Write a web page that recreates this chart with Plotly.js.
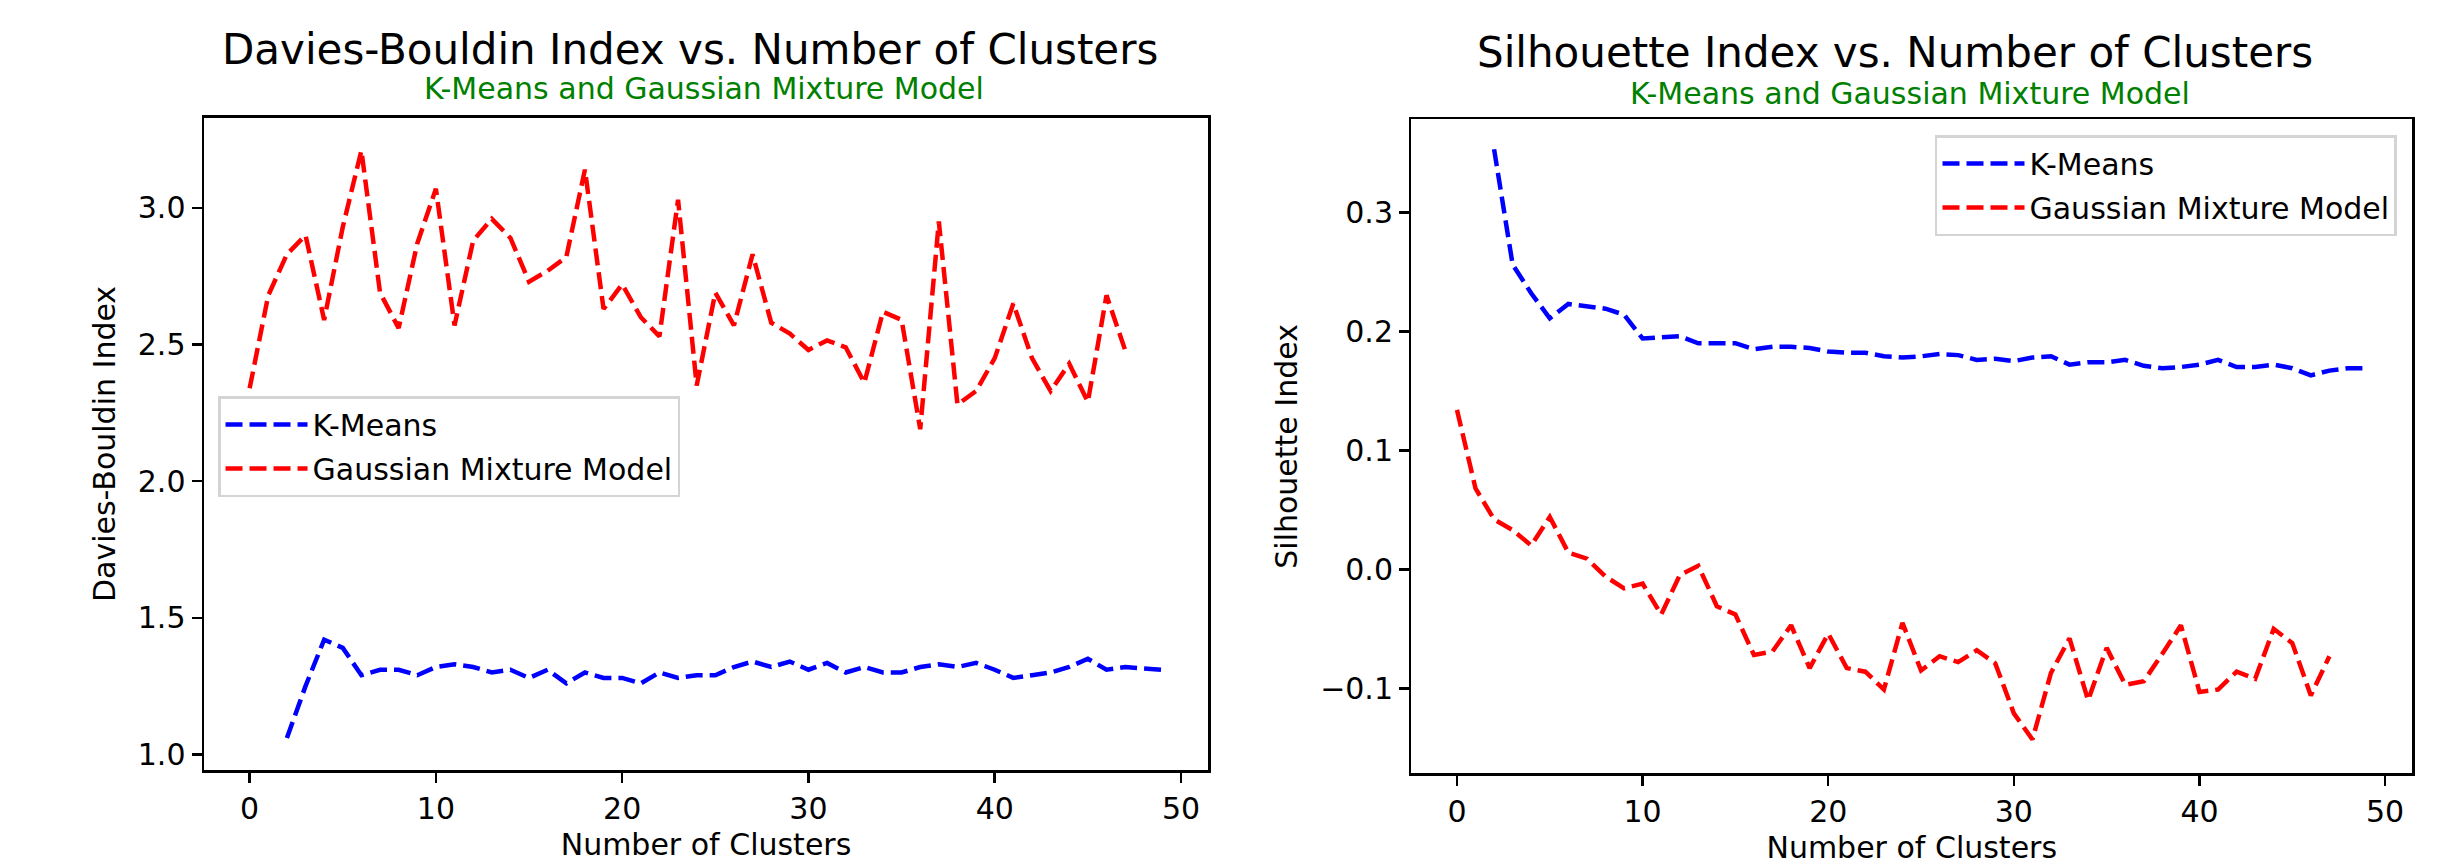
<!DOCTYPE html>
<html>
<head>
<meta charset="utf-8">
<script src="https://cdn.plot.ly/plotly-3.0.1.min.js"></script>
<style>html,body{margin:0;padding:0;background:#fff;}#chart{width:2454px;height:867px;}</style>
</head>
<body>
<div id="chart"></div>
<script>
// ---- Data ----
const gmmClusters = [0,1,2,3,4,5,6,7,8,9,10,11,12,13,14,15,16,17,18,19,20,21,22,23,24,25,26,27,28,29,30,31,32,33,34,35,36,37,38,39,40,41,42,43,44,45,46,47];
const kmClusters = [2,3,4,5,6,7,8,9,10,11,12,13,14,15,16,17,18,19,20,21,22,23,24,25,26,27,28,29,30,31,32,33,34,35,36,37,38,39,40,41,42,43,44,45,46,47,48,49];

const dbKMeans = [1.06,1.25,1.42,1.39,1.29,1.31,1.31,1.29,1.32,1.33,1.32,1.30,1.31,1.28,1.31,1.26,1.30,1.28,1.28,1.26,1.30,1.28,1.29,1.29,1.32,1.34,1.32,1.34,1.31,1.335,1.30,1.32,1.30,1.30,1.32,1.33,1.32,1.335,1.31,1.28,1.29,1.30,1.32,1.35,1.31,1.32,1.315,1.31];
const dbGMM = [2.34,2.68,2.83,2.90,2.59,2.93,3.21,2.69,2.56,2.87,3.07,2.57,2.88,2.96,2.89,2.73,2.77,2.82,3.14,2.63,2.72,2.60,2.53,3.03,2.35,2.69,2.57,2.83,2.58,2.54,2.48,2.515,2.49,2.36,2.62,2.59,2.19,2.95,2.28,2.33,2.45,2.65,2.45,2.33,2.43,2.29,2.68,2.48];

const silKMeans = [0.353,0.256,0.232,0.211,0.223,0.221,0.219,0.214,0.194,0.195,0.196,0.190,0.190,0.190,0.185,0.187,0.187,0.186,0.183,0.182,0.182,0.179,0.178,0.179,0.181,0.180,0.176,0.177,0.175,0.178,0.179,0.172,0.174,0.174,0.176,0.171,0.169,0.170,0.172,0.176,0.170,0.170,0.172,0.169,0.163,0.167,0.169,0.169];
const silGMM = [0.134,0.068,0.042,0.033,0.020,0.044,0.014,0.009,-0.006,-0.016,-0.012,-0.038,-0.005,0.003,-0.031,-0.038,-0.072,-0.069,-0.047,-0.083,-0.054,-0.083,-0.086,-0.101,-0.045,-0.085,-0.073,-0.078,-0.068,-0.079,-0.121,-0.143,-0.087,-0.058,-0.110,-0.066,-0.097,-0.094,-0.071,-0.047,-0.103,-0.101,-0.086,-0.092,-0.050,-0.062,-0.106,-0.073];

const seriesNames = ['K-Means', 'Gaussian Mixture Model'];
const titles = ['Davies-Bouldin Index vs. Number of Clusters', 'Silhouette Index vs. Number of Clusters'];
const subtitle = 'K-Means and Gaussian Mixture Model';
const xLabel = 'Number of Clusters';
const yLabels = ['Davies-Bouldin Index', 'Silhouette Index'];

// ---- Styles ----
const FONT = 'DejaVu Sans, Liberation Sans, sans-serif';
const dash = '17px,7px';
const lw = 4.5;
const blue = '#0000ff';
const red = '#ff0000';

const traces = [
  {x: kmClusters, y: dbKMeans, name: seriesNames[0], type: 'scatter', mode: 'lines',
   line: {color: blue, width: lw, dash: dash}, xaxis: 'x', yaxis: 'y', legend: 'legend', legendgroup: 'a'},
  {x: gmmClusters, y: dbGMM, name: seriesNames[1], type: 'scatter', mode: 'lines',
   line: {color: red, width: lw, dash: dash}, xaxis: 'x', yaxis: 'y', legend: 'legend', legendgroup: 'b'},
  {x: kmClusters, y: silKMeans, name: seriesNames[0], type: 'scatter', mode: 'lines',
   line: {color: blue, width: lw, dash: dash}, xaxis: 'x2', yaxis: 'y2', legend: 'legend2', legendgroup: 'c'},
  {x: gmmClusters, y: silGMM, name: seriesNames[1], type: 'scatter', mode: 'lines',
   line: {color: red, width: lw, dash: dash}, xaxis: 'x2', yaxis: 'y2', legend: 'legend2', legendgroup: 'd'}
];

function xAxis(domain, anchor) {
  return {
    domain: domain, anchor: anchor, range: [-2.45, 51.45], tick0: 0, dtick: 10,
    showline: true, mirror: true, linecolor: '#000', linewidth: 2.5,
    ticks: 'outside', ticklen: 10, tickwidth: 2.5, tickcolor: '#000',
    showgrid: false, zeroline: false,
    tickfont: {family: FONT, size: 30, color: '#000'},
    title: {text: xLabel, font: {family: FONT, size: 30, color: '#000'}, standoff: 9},
    automargin: false
  };
}
function yAxis(domain, anchor, range, dtick, label) {
  return {
    domain: domain, anchor: anchor, range: range, tick0: 0, dtick: dtick, tickformat: '.1f',
    showline: true, mirror: true, linecolor: '#000', linewidth: 2.5,
    ticks: 'outside', ticklen: 10, tickwidth: 2.5, tickcolor: '#000',
    showgrid: false, zeroline: false,
    tickfont: {family: FONT, size: 30, color: '#000'},
    title: {text: label, font: {family: FONT, size: 30, color: '#000'}, standoff: 14},
    automargin: false
  };
}

const legendBase = {
  bgcolor: 'rgba(255,255,255,0.8)', bordercolor: '#d4d4d4', borderwidth: 2.5,
  font: {family: FONT, size: 30, color: '#000'}, tracegroupgap: 2, itemwidth: 82,
  traceorder: 'grouped', yanchor: 'top'
};

const layout = {
  width: 2454, height: 867,
  margin: {l: 0, r: 0, t: 0, b: 0},
  paper_bgcolor: '#fff', plot_bgcolor: '#fff',
  font: {family: FONT, color: '#000'},
  showlegend: true,
  xaxis: xAxis([0.08313, 0.49226], 'y'),
  yaxis: yAxis([0.11153, 0.86424], 'x', [0.942, 3.33], 0.5, yLabels[0]),
  xaxis2: xAxis([0.57518, 0.98289], 'y2'),
  yaxis2: yAxis([0.10807, 0.86217], 'x2', [-0.1714, 0.378], 0.1, yLabels[1]),
  legend: Object.assign({}, legendBase, {x: 0.08884, xanchor: 'left', y: 0.54325}),
  legend2: Object.assign({}, legendBase, {x: 0.97677, xanchor: 'right', y: 0.84429}),
  annotations: [
    {text: titles[0], xref: 'paper', yref: 'paper', x: 0.28117, y: 0.94233, xanchor: 'center', yanchor: 'middle',
     showarrow: false, font: {family: FONT, size: 42, color: '#000'}},
    {text: subtitle, xref: 'paper', yref: 'paper', x: 0.28688, y: 0.89735, xanchor: 'center', yanchor: 'middle',
     showarrow: false, font: {family: FONT, size: 30, color: '#008000'}},
    {text: titles[1], xref: 'paper', yref: 'paper', x: 0.77221, y: 0.93887, xanchor: 'center', yanchor: 'middle',
     showarrow: false, font: {family: FONT, size: 42, color: '#000'}},
    {text: subtitle, xref: 'paper', yref: 'paper', x: 0.77832, y: 0.89273, xanchor: 'center', yanchor: 'middle',
     showarrow: false, font: {family: FONT, size: 30, color: '#008000'}}
  ]
};

Plotly.newPlot('chart', traces, layout, {staticPlot: true, displayModeBar: false});
</script>
</body>
</html>
